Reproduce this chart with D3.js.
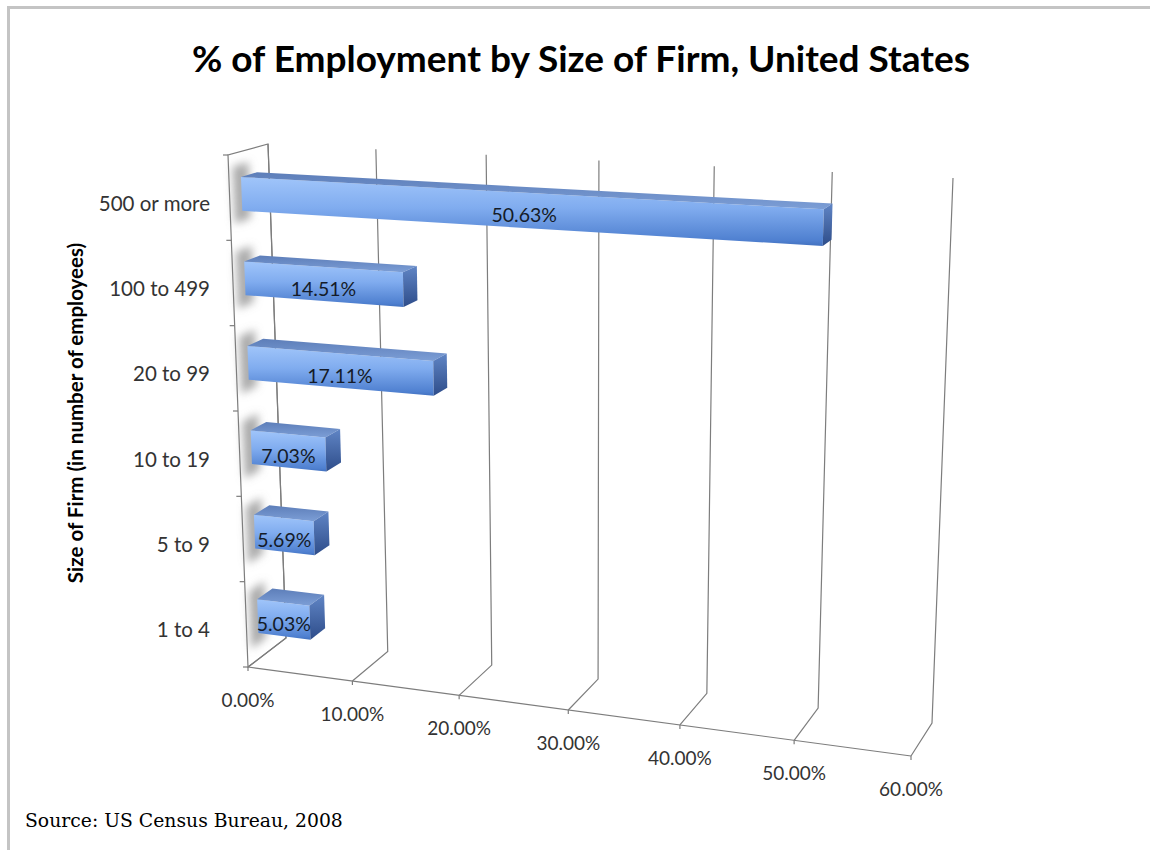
<!DOCTYPE html>
<html>
<head>
<meta charset="utf-8">
<script src="https://cdn.jsdelivr.net/npm/d3@7"></script>
<style>
  body { margin: 0; background: #fff; }
  svg { display: block; }
</style>
</head>
<body>
<svg id="chart" width="1150" height="850"></svg>
<script>
// Share of US employment by firm size (bottom to top of the chart)
const categories = ["1 to 4", "5 to 9", "10 to 19", "20 to 99", "100 to 499", "500 or more"];
const shares = [5.03, 5.69, 7.03, 17.11, 14.51, 50.63];
const barLabels = ["5.03%", "5.69%", "7.03%", "17.11%", "14.51%", "50.63%"];
const xTicks = [0, 10, 20, 30, 40, 50, 60];
const xTickLabels = ["0.00%", "10.00%", "20.00%", "30.00%", "40.00%", "50.00%", "60.00%"];

const svg = d3.select("#chart");

// Box of the 3-D plot: the front (depth 0) and back (depth 1) planes,
// each given by its bottom-left, bottom-right, top-left and top-right corners.
const frontPlane = { bl: [248, 667], br: [911, 756], tl: [228, 155], tr: [935, 192] };
const backPlane  = { bl: [286, 638], br: [932, 723], tl: [268, 144], tr: [953, 178] };
const persp = 1.07; // foreshortening along the value axis

const x = d3.scaleLinear().domain([0, 60]).range([0, 1]);
const y = d3.scaleBand().domain(categories).range([0, 1]).paddingInner(0.6).paddingOuter(0.3);
const barDepth = [0.3, 0.7];

function warp(t) { return t / (t + persp * (1 - t)); }
function onPlane(p, t, v) {
  const bx = p.bl[0] + (p.br[0] - p.bl[0]) * t, by = p.bl[1] + (p.br[1] - p.bl[1]) * t;
  const tx = p.tl[0] + (p.tr[0] - p.tl[0]) * t, ty = p.tl[1] + (p.tr[1] - p.tl[1]) * t;
  return [bx + (tx - bx) * v, by + (ty - by) * v];
}
// value, vertical position (0..1), depth (0..1) -> screen point
function project(val, v, w) {
  const t = warp(x(val));
  const a = onPlane(frontPlane, t, v), b = onPlane(backPlane, t, v);
  return [a[0] + (b[0] - a[0]) * w, a[1] + (b[1] - a[1]) * w];
}
const line = d3.line();
const poly = pts => line(pts) + "Z";

// ---- defs ----
const defs = svg.append("defs");
function grad(id, stops) {
  const g = defs.append("linearGradient").attr("id", id)
    .attr("x1", 0).attr("y1", 0).attr("x2", 0).attr("y2", 1);
  stops.forEach(([o, c]) => g.append("stop").attr("offset", o).attr("stop-color", c));
}
grad("barFront", [[0, "#a0c5fa"], [0.45, "#80acef"], [0.92, "#4f80d0"], [1, "#4271bf"]]);
grad("barTop", [[0, "#5d7eb9"], [1, "#7c9ed6"]]);
grad("barCap", [[0, "#6085c5"], [1, "#2e4d8a"]]);
defs.append("filter").attr("id", "soft").attr("x", "-50%").attr("y", "-50%").attr("width", "200%").attr("height", "200%")
  .append("feGaussianBlur").attr("stdDeviation", 4.5);

// ---- chart frame ----
svg.append("path").attr("d", "M8.5,850 V7.5 H1150")
  .attr("fill", "none").attr("stroke", "#c4c4c4").attr("stroke-width", 3);

// ---- title ----
svg.append("text").attr("x", 581).attr("y", 72).attr("text-anchor", "middle")
  .attr("font-family", "Lato, 'Open Sans', sans-serif").attr("font-weight", "bold")
  .attr("font-size", 37).attr("fill", "#000")
  .text("% of Employment by Size of Firm, United States");

// ---- shadows of the bars on the side wall ----
svg.append("g").attr("filter", "url(#soft)")
  .selectAll("path").data(categories).join("path")
  .attr("fill", "#909090").attr("opacity", 0.75)
  .attr("d", c => {
    const v0 = y(c) - 0.02, v1 = y(c) + y.bandwidth() + 0.025;
    return poly([project(0, v0, 0.1), project(0, v1, 0.1), project(0, v1, 0.5), project(0, v0, 0.5)]);
  });

// ---- gridlines: floor depth lines + back-wall verticals ----
const grid = svg.append("g").attr("fill", "none").attr("stroke", "#7d7d7d").attr("stroke-width", 1.2);
grid.selectAll("path.g").data(xTicks).join("path")
  .attr("d", d => line([project(d, 0, 0), project(d, 0, 1), project(d, 1, 1)]));
// side wall at value 0
grid.append("path").attr("d", poly([project(0, 0, 0), project(0, 1, 0), project(0, 1, 1), project(0, 0, 1)]));
// front edge of the floor
grid.append("path").attr("d", line([project(0, 0, 0), project(60, 0, 0)]));
// value ticks
grid.selectAll("path.vt").data(xTicks).join("path")
  .attr("d", d => { const p = project(d, 0, 0); return line([p, [p[0], p[1] + 4]]); });
// category ticks on the wall's front edge
grid.selectAll("path.ct").data(d3.range(categories.length + 1)).join("path")
  .attr("d", k => { const p = project(0, k / categories.length, 0); return line([[p[0] - 5, p[1]], p]); });

// ---- bars ----
const rows = categories.map((c, i) => ({ c, value: shares[i], label: barLabels[i] }));
const bars = svg.append("g").selectAll("g").data(rows).join("g");
const [wf, wb] = barDepth;
bars.append("path").attr("fill", "url(#barFront)")
  .attr("d", d => {
    const v0 = y(d.c), v1 = v0 + y.bandwidth();
    return poly([project(0, v1, wf), project(d.value, v1, wf), project(d.value, v0, wf), project(0, v0, wf)]);
  });
bars.append("path").attr("fill", "url(#barTop)")
  .attr("d", d => {
    const v1 = y(d.c) + y.bandwidth();
    return poly([project(0, v1, wb), project(d.value, v1, wb), project(d.value, v1, wf), project(0, v1, wf)]);
  });
bars.append("path").attr("fill", "url(#barCap)")
  .attr("d", d => {
    const v0 = y(d.c), v1 = v0 + y.bandwidth();
    return poly([project(d.value, v1, wf), project(d.value, v1, wb), project(d.value, v0, wb), project(d.value, v0, wf)]);
  });
bars.append("text")
  .attr("font-family", "Lato, 'Open Sans', sans-serif").attr("font-size", 19.5).attr("fill", "#141b28")
  .attr("text-anchor", "middle")
  .attr("transform", d => {
    const p = project(d.value / 2, y(d.c) + y.bandwidth() / 2, wf);
    return `translate(${p[0]},${p[1] + 12})`;
  })
  .text(d => d.label);

// ---- category labels ----
svg.append("g").selectAll("text").data(categories).join("text")
  .attr("x", 210).attr("y", c => project(0, y(c) + y.bandwidth() / 2, 0)[1] + 13)
  .attr("text-anchor", "end")
  .attr("font-family", "Lato, 'Open Sans', sans-serif").attr("font-size", 20.5).attr("fill", "#333")
  .text(c => c);

// ---- value axis labels ----
svg.append("g").selectAll("text").data(xTicks).join("text")
  .attr("x", (d) => project(d, 0, 0)[0]).attr("y", d => project(d, 0, 0)[1] + 40)
  .attr("text-anchor", "middle")
  .attr("font-family", "Lato, 'Open Sans', sans-serif").attr("font-size", 19).attr("fill", "#333")
  .text((d, i) => xTickLabels[i]);

// ---- axis title ----
svg.append("text").attr("transform", "translate(83,413) rotate(-90)")
  .attr("text-anchor", "middle")
  .attr("font-family", "Lato, 'Open Sans', sans-serif").attr("font-weight", "bold")
  .attr("font-size", 20.5).attr("fill", "#000")
  .text("Size of Firm (in number of employees)");

// ---- source note ----
svg.append("text").attr("x", 25).attr("y", 827)
  .attr("font-family", "'DejaVu Serif', serif").attr("font-size", 18.8).attr("fill", "#000")
  .text("Source: US Census Bureau, 2008");
</script>
</body>
</html>
